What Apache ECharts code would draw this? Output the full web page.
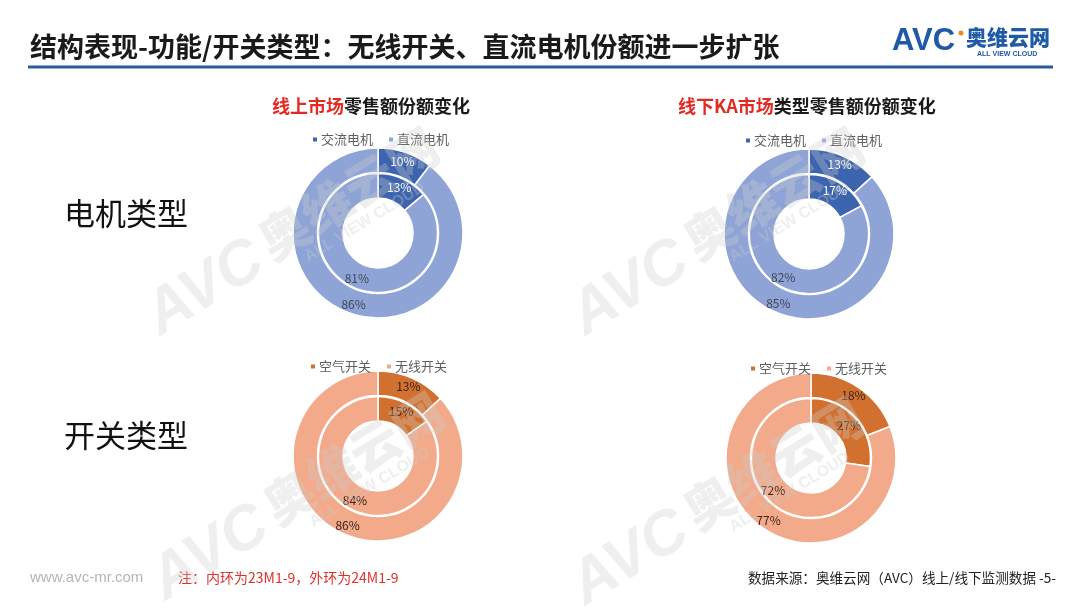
<!DOCTYPE html>
<html>
<head>
<meta charset="utf-8">
<script src="https://cdn.jsdelivr.net/npm/echarts@6/dist/echarts.min.js"></script>
<style>
html,body{margin:0;padding:0;background:#fff;}
#c{width:1080px;height:608px;}
</style>
</head>
<body>
<div id="c"></div>
<script>
// ---- data ----
const motorNames = ['交流电机', '直流电机'];
const switchNames = ['空气开关', '无线开关'];
const onlineMotorInner = [13, 81];   // 23M1-9
const onlineMotorOuter = [10, 86];   // 24M1-9
const offlineMotorInner = [17, 82];
const offlineMotorOuter = [13, 85];
const onlineSwitchInner = [15, 84];
const onlineSwitchOuter = [13, 86];
const offlineSwitchInner = [27, 72];
const offlineSwitchOuter = [18, 77];

const motorColors = ['#3d64ae', '#8fa4d6'];
const switchColors = ['#d2712f', '#f2aa8b'];
const FONT = '"Noto Sans CJK SC", "Noto Sans", sans-serif';

function ring(center, radius, names, values, colors, labelColors) {
  return {
    type: 'pie',
    center: center,
    radius: radius,
    startAngle: 90,
    clockwise: true,
    silent: true,
    animation: false,
    z: 2,
    itemStyle: { borderColor: '#ffffff', borderWidth: 1.5 },
    label: {
      show: true, position: 'inside', formatter: '{c}%',
      fontFamily: FONT, fontSize: 12
    },
    labelLine: { show: false },
    data: names.map((n, i) => ({
      name: n, value: values[i],
      itemStyle: { color: colors[i] },
      label: { color: labelColors[i] }
    }))
  };
}

const innerR = [35, 59.5];
const outerR = [60.5, 85];
const motorLbl = ['#ffffff', '#3f4656'];
const switchLbl = ['#3a2418', '#3a2418'];

const series = [
  ring([378, 233], innerR, motorNames, onlineMotorInner, motorColors, motorLbl),
  ring([378, 233], outerR, motorNames, onlineMotorOuter, motorColors, motorLbl),
  ring([809, 234], innerR, motorNames, offlineMotorInner, motorColors, motorLbl),
  ring([809, 234], outerR, motorNames, offlineMotorOuter, motorColors, motorLbl),
  ring([378, 456], innerR, switchNames, onlineSwitchInner, switchColors, switchLbl),
  ring([378, 456], outerR, switchNames, onlineSwitchOuter, switchColors, switchLbl),
  ring([811, 458], innerR, switchNames, offlineSwitchInner, switchColors, switchLbl),
  ring([811, 458], outerR, switchNames, offlineSwitchOuter, switchColors, switchLbl)
];

function legend(left, top, names) {
  return {
    left: left, top: top, data: names, icon: 'rect',
    itemWidth: 6, itemHeight: 6, itemGap: 14,
    selectedMode: false,
    textStyle: { fontFamily: FONT, fontSize: 13, color: '#5f5f5f', padding: [0, 0, 0, -2] }
  };
}

const WM = 'rgba(205,205,205,0.32)';
function wm(x, y, s) {
  const a = 0.55, c = Math.cos(a), sn = Math.sin(a);
  return [
    { type: 'text', x: x, y: y, rotation: a, z: 1, zlevel: 0, silent: true,
      style: { text: 'AVC', fontFamily: '"Liberation Sans", Arial', fontWeight: 900, fontStyle: 'italic',
               fontSize: 62 * s, fill: WM } },
    { type: 'text', x: x + 135 * s * c, y: y - 135 * s * sn, rotation: a, z: 100, silent: true,
      style: { text: '奥维云网', fontFamily: FONT, fontWeight: 900,
               fontSize: 50 * s, fill: WM } },
    { type: 'text', x: x + 165 * s * c + 50 * s * sn, y: y - 165 * s * sn + 50 * s * c, rotation: a, z: 100, silent: true,
      style: { text: 'ALL VIEW CLOUD', fontFamily: '"Liberation Sans", Arial', fontWeight: 700,
               fontSize: 16 * s, fill: WM } }
  ];
}

const graphics = [
  // title
  { type: 'text', left: 30, top: 33, style: { text: '结构表现-功能/开关类型：无线开关、直流电机份额进一步扩张',
      fontFamily: FONT, fontSize: 27, fontWeight: 700, fill: '#1a1a1a' } },
  { type: 'rect', shape: { x: 28, y: 65.5, width: 1025, height: 3 }, style: { fill: '#2b5a98' } },
  // logo
  { type: 'text', left: 892, top: 26, style: { text: 'AVC', fontFamily: '"Liberation Sans", Arial',
      fontSize: 31, fontWeight: 900, fill: '#1f5aa8' } },
  { type: 'circle', shape: { cx: 961, cy: 33, r: 2.5 }, style: { fill: '#f08a1c' } },
  { type: 'text', left: 966, top: 27, style: { text: '奥维云网', fontFamily: FONT,
      fontSize: 21, fontWeight: 900, fill: '#1f5aa8' } },
  { type: 'text', left: 977, top: 51, style: { text: 'ALL VIEW CLOUD', fontFamily: '"Liberation Sans", Arial',
      fontSize: 7, fontWeight: 700, fill: '#1f5aa8' } },
  // row labels
  { type: 'text', left: 64, top: 198, style: { text: '电机类型', fontFamily: FONT, fontSize: 31, fill: '#111' } },
  { type: 'text', left: 64, top: 420, style: { text: '开关类型', fontFamily: FONT, fontSize: 31, fill: '#111' } },
  // chart titles
  { type: 'text', left: 272, top: 97, style: { fontFamily: FONT, fontSize: 18, fontWeight: 700,
      rich: { r: { fill: '#e02a22', fontSize: 18, fontWeight: 700, fontFamily: FONT },
              k: { fill: '#1a1a1a', fontSize: 18, fontWeight: 700, fontFamily: FONT } },
      text: '{r|线上市场}{k|零售额份额变化}' } },
  { type: 'text', left: 678, top: 97, style: { fontFamily: FONT, fontSize: 18, fontWeight: 700,
      rich: { r: { fill: '#e02a22', fontSize: 18, fontWeight: 700, fontFamily: FONT },
              k: { fill: '#1a1a1a', fontSize: 18, fontWeight: 700, fontFamily: FONT } },
      text: '{r|线下KA市场}{k|类型零售额份额变化}' } },
  // footer
  { type: 'text', left: 30, top: 570, style: { text: 'www.avc-mr.com', fontFamily: '"Liberation Sans", Arial',
      fontSize: 15, fill: '#b5b5b5' } },
  { type: 'text', left: 178, top: 571, style: { text: '注：内环为23M1-9，外环为24M1-9', fontFamily: FONT,
      fontSize: 14, fill: '#e0302c' } },
  { type: 'text', right: 24, top: 571, style: { text: '数据来源：奥维云网（AVC）线上/线下监测数据 -5-', fontFamily: FONT,
      fontSize: 13.6, fill: '#222' } }
].concat(wm(135, 295, 1), wm(560, 295, 1), wm(140, 560, 1), wm(560, 565, 1));

const chart = echarts.init(document.getElementById('c'), null, { renderer: 'canvas' });
chart.setOption({
  backgroundColor: '#ffffff',
  animation: false,
  legend: [
    legend(306, 128, motorNames),
    legend(739, 129, motorNames),
    legend(304, 355, switchNames),
    legend(744, 357, switchNames)
  ],
  series: series,
  graphic: graphics
});
</script>
</body>
</html>
